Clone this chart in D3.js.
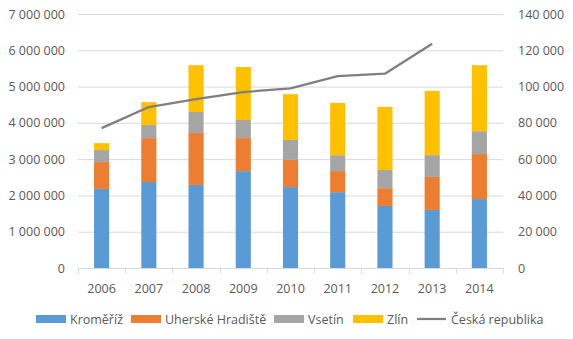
<!DOCTYPE html>
<html>
<head>
<meta charset="utf-8">
<script src="https://cdn.jsdelivr.net/npm/d3@7"></script>
<style>
  body { margin: 0; background: #fff; }
  svg text { font-family: "Open Sans", "Liberation Sans", sans-serif; fill: #595959; }
</style>
</head>
<body>
<svg id="chart" width="573" height="339"></svg>
<script>
const YEARS = ["2006", "2007", "2008", "2009", "2010", "2011", "2012", "2013", "2014"];
const KROMERIZ = [2180000, 2370000, 2290000, 2670000, 2230000, 2090000, 1710000, 1600000, 1900000];
const UHERSKE = [740000, 1210000, 1430000, 910000, 750000, 580000, 490000, 910000, 1240000];
const VSETIN = [330000, 360000, 580000, 500000, 550000, 440000, 500000, 600000, 630000];
const ZLIN = [190000, 630000, 1290000, 1460000, 1260000, 1440000, 1740000, 1770000, 1820000];
const CR = [77100, 88700, 93100, 97000, 99000, 105800, 107100, 123600, null];
const LEFT_TICKS = [0, 1000000, 2000000, 3000000, 4000000, 5000000, 6000000, 7000000];
const RIGHT_TICKS = [0, 20000, 40000, 60000, 80000, 100000, 120000, 140000];

const SERIES = [
  { name: "Kroměříž", values: KROMERIZ, color: "#5b9bd5" },
  { name: "Uherské Hradiště", values: UHERSKE, color: "#ed7d31" },
  { name: "Vsetín", values: VSETIN, color: "#a5a5a5" },
  { name: "Zlín", values: ZLIN, color: "#ffc000" }
];

const PLOT = { left: 78, right: 503, top: 14, bottom: 268 };
const fmt = (v) => d3.format(",")(v).replace(/,/g, " ");

const svg = d3.select("#chart");

const x = d3.scaleBand().domain(YEARS).range([PLOT.left, PLOT.right]).paddingInner(0.68).paddingOuter(0.34);
const xCenter = d3.scalePoint().domain(YEARS).range([PLOT.left, PLOT.right]).padding(0.5);
const yLeft = d3.scaleLinear().domain([0, 7000000]).range([PLOT.bottom, PLOT.top]);
const yRight = d3.scaleLinear().domain([0, 140000]).range([PLOT.bottom, PLOT.top]);

// gridlines
svg.append("g")
  .selectAll("line")
  .data(LEFT_TICKS.slice(1))
  .join("line")
  .attr("x1", PLOT.left)
  .attr("x2", PLOT.right)
  .attr("y1", (d) => yLeft(d) + 0.5)
  .attr("y2", (d) => yLeft(d) + 0.5)
  .attr("stroke", "#d9d9d9");

// stacked bars
const stacked = d3.stack()
  .keys(SERIES.map((s, i) => i))
  .value((row, key) => SERIES[key].values[row])(YEARS.map((_, i) => i));

svg.append("g")
  .selectAll("g")
  .data(stacked)
  .join("g")
  .attr("fill", (layer) => SERIES[layer.key].color)
  .selectAll("rect")
  .data((layer) => layer)
  .join("rect")
  .attr("x", (d) => x(YEARS[d.data]))
  .attr("width", x.bandwidth())
  .attr("y", (d) => yLeft(d[1]))
  .attr("height", (d) => yLeft(d[0]) - yLeft(d[1]));

// x axis
const xAxis = svg.append("g").attr("transform", `translate(0,${PLOT.bottom + 0.5})`);
xAxis.append("line")
  .attr("x1", PLOT.left).attr("x2", PLOT.right)
  .attr("stroke", "#d9d9d9");
const step = (PLOT.right - PLOT.left) / YEARS.length;
xAxis.selectAll(".tick")
  .data(d3.range(YEARS.length + 1))
  .join("line")
  .attr("x1", (i) => Math.round(PLOT.left + i * step) + 0.5)
  .attr("x2", (i) => Math.round(PLOT.left + i * step) + 0.5)
  .attr("y1", 0).attr("y2", 5)
  .attr("stroke", "#d9d9d9");
xAxis.selectAll("text")
  .data(YEARS)
  .join("text")
  .attr("x", (d) => xCenter(d))
  .attr("y", 24)
  .attr("text-anchor", "middle")
  .attr("font-size", 12.5)
  .text((d) => d);

// left axis labels
svg.append("g")
  .selectAll("text")
  .data(LEFT_TICKS)
  .join("text")
  .attr("x", 65)
  .attr("y", (d) => yLeft(d) + 4.5)
  .attr("text-anchor", "end")
  .attr("font-size", 12.5)
  .text(fmt);

// right axis labels
svg.append("g")
  .selectAll("text")
  .data(RIGHT_TICKS)
  .join("text")
  .attr("x", 518)
  .attr("y", (d) => yRight(d) + 4.5)
  .attr("text-anchor", "start")
  .attr("font-size", 12.5)
  .text(fmt);

// line series
const line = d3.line()
  .defined((d) => d != null)
  .x((d, i) => xCenter(YEARS[i]))
  .y((d) => yRight(d));

svg.append("path")
  .datum(CR)
  .attr("d", line)
  .attr("fill", "none")
  .attr("stroke", "#7f7f7f")
  .attr("stroke-width", 2.25)
  .attr("stroke-linejoin", "round");

// legend
const legendItems = [
  { name: "Kroměříž", color: "#5b9bd5", x: 36, type: "rect" },
  { name: "Uherské Hradiště", color: "#ed7d31", x: 131, type: "rect" },
  { name: "Vsetín", color: "#a5a5a5", x: 274, type: "rect" },
  { name: "Zlín", color: "#ffc000", x: 353, type: "rect" },
  { name: "Česká republika", color: "#7f7f7f", x: 417, type: "line" }
];
const legend = svg.append("g");
legendItems.forEach((item) => {
  if (item.type === "rect") {
    legend.append("rect")
      .attr("x", item.x).attr("y", 315)
      .attr("width", 30).attr("height", 8)
      .attr("fill", item.color);
  } else {
    legend.append("line")
      .attr("x1", item.x).attr("x2", item.x + 29)
      .attr("y1", 319).attr("y2", 319)
      .attr("stroke", item.color)
      .attr("stroke-width", 2.25);
  }
  legend.append("text")
    .attr("x", item.x + 34)
    .attr("y", 323.5)
    .attr("font-size", 12.5)
    .text(item.name);
});
</script>
</body>
</html>
